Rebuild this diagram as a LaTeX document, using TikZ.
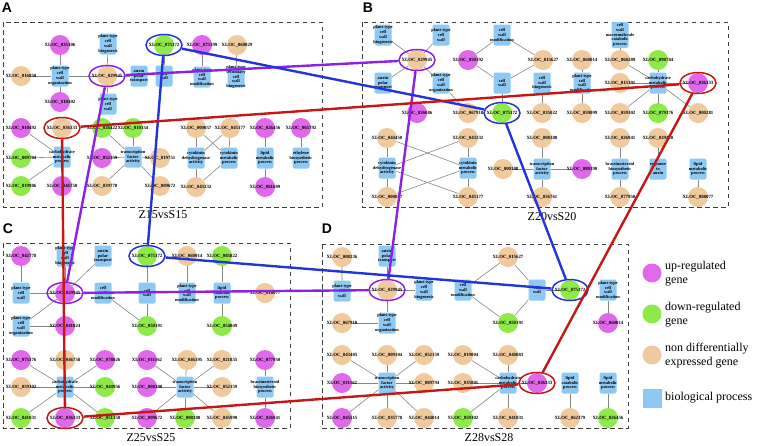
\documentclass[tikz,border=0pt]{standalone}
\usepackage{fontspec}
\setmainfont{Liberation Serif}
\newfontfamily\lsans{Liberation Sans}
\usetikzlibrary{shapes.geometric}
\pgfdeclarelayer{bg}
\pgfsetlayers{bg,main}
\definecolor{upc}{RGB}{224,104,234}
\definecolor{dnc}{RGB}{142,234,72}
\definecolor{ndc}{RGB}{240,201,156}
\definecolor{bpc}{RGB}{142,201,244}
\definecolor{purp}{RGB}{140,32,228}
\definecolor{blu}{RGB}{34,52,218}
\definecolor{rd}{RGB}{200,22,22}
\definecolor{edc}{RGB}{135,135,135}
\definecolor{frc}{RGB}{60,60,60}
\newcommand{\gnode}[5]{\node[#2,label={[gl]center:XLOC\_#5}] (#1) at (#3,-#4) {};}
\newcommand{\bnode}[5][]{\node[bp,#1,label={[bl]center:{#5}}] (#2) at (#3,-#4) {};}
\begin{document}
\begin{tikzpicture}[x=1pt,y=1pt,
 gene/.style={circle,inner sep=0pt,minimum size=20pt},
 up/.style={gene,fill=upc}, dn/.style={gene,fill=dnc}, nd/.style={gene,fill=ndc},
 bp/.style={rectangle,rounded corners=2pt,fill=bpc,minimum width=17pt,minimum height=21pt,inner sep=0pt},
 gl/.style={font=\fontsize{4.8}{5}\selectfont\bfseries,inner sep=0pt},
 bl/.style={font=\fontsize{4.4}{4.7}\selectfont\bfseries,align=center,inner sep=0pt},
 ed/.style={draw=edc,line width=0.6pt},
 panel/.style={draw=frc,dash pattern=on 4.5pt off 3.5pt,line width=0.9pt},
 hl/.style={ellipse,line width=1.5pt,minimum width=36pt,minimum height=21pt,inner sep=0pt},
 hline/.style={line width=2.4pt},
 ttl/.style={font=\fontsize{12}{14}\selectfont,inner sep=0pt},
 let/.style={font=\lsans\bfseries\fontsize{14}{16}\selectfont,inner sep=0pt},
 lg/.style={font=\fontsize{12}{14}\selectfont,align=left,inner sep=0pt,anchor=west}]
\useasboundingbox (0,0) rectangle (757,-445);
% panel frames
\draw[panel] (3,-22) rectangle (322,-207);
\draw[panel] (362,-22) rectangle (728,-207);
\draw[panel] (3,-243) rectangle (290,-428);
\draw[panel] (322,-244) rectangle (628,-428);
\node[let] (lA) at (7,-8) {A};
\node[let] (lB) at (368,-8) {B};
\node[let] (lC) at (8,-229) {C};
\node[let] (lD) at (327,-229) {D};
\node[ttl] (tA) at (163,-215) {Z15vsS15};
\node[ttl] (tB) at (552,-217) {Z20vsS20};
\node[ttl] (tC) at (151,-438) {Z25vsS25};
\node[ttl] (tD) at (489,-438) {Z28vsS28};
% ---------------- Panel A
\gnode{a035306}{up}{60}{45}{035306}
\gnode{a075372}{dn}{164}{45}{075372}
\gnode{a075399}{up}{202}{45}{075399}
\gnode{a060029}{nd}{237}{45}{060029}
\gnode{a016858}{nd}{21}{76}{016858}
\gnode{a029945}{nd}{107}{76}{029945}
\gnode{a010502}{up}{60}{102}{010502}
\gnode{a010492}{up}{21}{128}{010492}
\gnode{a036333}{nd}{62}{128}{036333}
\gnode{a026422}{dn}{102}{128}{026422}
\gnode{a010154}{dn}{133}{128}{010154}
\gnode{a000057}{nd}{196}{128}{000057}
\gnode{a045177}{nd}{230}{128}{045177}
\gnode{a026456}{up}{265}{128}{026456}
\gnode{a065792}{up}{301}{128}{065792}
\gnode{a009704}{dn}{21}{158}{009704}
\gnode{a052159}{up}{102}{158}{052159}
\gnode{a019751}{nd}{160}{158}{019751}
\gnode{a019986}{dn}{21}{186}{019986}
\gnode{a046758}{up}{62}{186}{046758}
\gnode{a039778}{nd}{102}{186}{039778}
\gnode{a009672}{nd}{160}{186}{009672}
\gnode{a043232}{nd}{196}{187}{043232}
\gnode{a061609}{up}{265}{187}{061609}
\bnode{aBio}{108}{44}{plant-type\\cell\\wall\\biogenesis}
\bnode{aOrg}{60}{76}{plant-type\\cell\\wall\\organization}
\bnode{aAux}{139}{76}{auxin\\polar\\transport}
\bnode{aCW}{164}{76}{cell\\wall}
\bnode{aPCW}{108}{104}{plant-type\\cell\\wall}
\bnode{aMod}{202}{77}{plant-type\\cell\\wall\\modification}
\bnode{aSec}{236}{77}{plant-type\\secondary\\cell\\wall\\biogenesis}
\bnode{aCarb}{62}{157}{carbohydrate\\metabolic\\process}
\bnode{aTF}{133}{157}{transcription\\factor\\activity}
\bnode{aCKD}{196}{158}{cytokinin\\dehydrogenase\\activity}
\bnode{aCKM}{229}{158}{cytokinin\\metabolic\\process}
\bnode{aLip}{265}{158}{lipid\\metabolic\\process}
\bnode{aEth}{301}{158}{ethylene\\biosynthetic\\process}
% ---------------- Panel B
\gnode{b029945}{nd}{417}{60}{029945}
\gnode{b050192}{up}{468}{60}{050192}
\gnode{b015627}{nd}{543}{60}{015627}
\gnode{b060014}{nd}{582}{60}{060014}
\gnode{b068289}{nd}{620}{60}{068289}
\gnode{b098784}{dn}{658}{60}{098784}
\gnode{b015391}{nd}{620}{83}{015391}
\gnode{b036333}{up}{698}{83}{036333}
\gnode{b026086}{up}{417}{113}{026086}
\gnode{b067918}{nd}{468}{113}{067918}
\gnode{b075372}{dn}{502}{113}{075372}
\gnode{b035022}{nd}{542}{113}{035022}
\gnode{b059099}{nd}{582}{113}{059099}
\gnode{b059302}{nd}{620}{113}{059302}
\gnode{b079376}{dn}{658}{113}{079376}
\gnode{b000281}{nd}{698}{113}{000281}
\gnode{b044450}{nd}{387}{138}{044450}
\gnode{b043232}{nd}{468}{138}{043232}
\gnode{b008188}{nd}{542}{138}{008188}
\gnode{b026941}{nd}{620}{138}{026941}
\gnode{b029420}{nd}{658}{138}{029420}
\gnode{b000108}{nd}{503}{169}{000108}
\gnode{b080390}{up}{582}{169}{080390}
\gnode{b000057}{nd}{387}{197}{000057}
\gnode{b045177}{nd}{468}{197}{045177}
\gnode{b056761}{nd}{542}{197}{056761}
\gnode{b077950}{nd}{620}{197}{077950}
\gnode{b008077}{nd}{698}{197}{008077}
\bnode{bBio}{383}{35}{plant-type\\cell\\wall\\biogenesis}
\bnode{bPCW}{441}{35}{plant-type\\cell\\wall}
\bnode{bAux}{383}{83}{auxin\\polar\\transport}
\bnode{bOrg}{441}{83}{plant-type\\cell\\wall\\organization}
\bnode{bMod}{502}{35}{cell\\wall\\modification}
\bnode{bCW}{502}{83}{cell\\wall}
\bnode{bCWB}{542}{83}{cell\\wall\\biogenesis}
\bnode{bPMod}{582}{83}{plant-type\\cell\\wall\\modification}
\bnode[minimum height=26pt]{bMac}{620}{35}{cell\\wall\\macromolecule\\catabolic\\process}
\bnode{bCarb}{658}{83}{carbohydrate\\metabolic\\process}
\bnode{bCKD}{387}{168}{cytokinin\\dehydrogenase\\activity}
\bnode{bCKM}{468}{168}{cytokinin\\metabolic\\process}
\bnode{bTF}{542}{169}{transcription\\factor\\activity}
\bnode{bBra}{620}{169}{brassinosteroid\\biosynthetic\\process}
\bnode{bRA}{658}{169}{response\\to\\auxin}
\bnode{bLip}{698}{169}{lipid\\metabolic\\process}
% ---------------- Panel C
\gnode{c042778}{up}{21}{256}{042778}
\gnode{c075372}{dn}{147}{256}{075372}
\gnode{c060014}{nd}{187}{256}{060014}
\gnode{c085822}{dn}{222}{256}{085822}
\gnode{c029945}{up}{65}{293}{029945}
\gnode{c018077}{nd}{265}{293}{018077}
\gnode{c041824}{up}{65}{326}{041824}
\gnode{c050191}{dn}{147}{326}{050191}
\gnode{c054049}{dn}{222}{326}{054049}
\gnode{c075376}{up}{21}{360}{075376}
\gnode{c046758}{nd}{65}{360}{046758}
\gnode{c078026}{up}{105}{360}{078026}
\gnode{c011162}{up}{147}{360}{011162}
\gnode{c046395}{nd}{187}{360}{046395}
\gnode{c021835}{nd}{222}{360}{021835}
\gnode{c077950}{up}{265}{360}{077950}
\gnode{c059302}{nd}{21}{387}{059302}
\gnode{c044956}{dn}{105}{387}{044956}
\gnode{c008398}{up}{147}{387}{008398}
\gnode{c052159}{nd}{222}{387}{052159}
\gnode{c041031}{dn}{21}{418}{041031}
\gnode{c036333}{up}{65}{418}{036333}
\gnode{c051350}{dn}{105}{418}{051350}
\gnode{c009672}{up}{147}{418}{009672}
\gnode{c008188}{dn}{185}{418}{008188}
\gnode{c045990}{nd}{222}{418}{045990}
\gnode{c026941}{up}{265}{418}{026941}
\bnode{cBio}{65}{256}{plant-type\\cell\\wall\\biogenesis}
\bnode{cAux}{103}{256}{auxin\\polar\\transport}
\bnode{cPCW}{21}{293}{plant-type\\cell\\wall}
\bnode{cMod}{103}{293}{cell\\wall\\modification}
\bnode{cCW}{147}{293}{cell\\wall}
\bnode{cPMod}{187}{293}{plant-type\\cell\\wall\\modification}
\bnode{cLipC}{222}{293}{lipid\\catabolic\\process}
\bnode{cOrg}{21}{326}{plant-type\\cell\\wall\\organization}
\bnode{cCarb}{65}{387}{carbohydrate\\metabolic\\process}
\bnode{cTF}{185}{387}{transcription\\factor\\activity}
\bnode{cBra}{265}{387}{brassinosteroid\\biosynthetic\\process}
% ---------------- Panel D
\gnode{d008236}{nd}{342}{257}{008236}
\gnode{d015627}{nd}{508}{257}{015627}
\gnode{d029945}{nd}{387}{290}{029945}
\gnode{d075372}{dn}{570}{290}{075372}
\gnode{d067918}{nd}{342}{323}{067918}
\gnode{d050191}{dn}{508}{323}{050191}
\gnode{d060014}{up}{608}{323}{060014}
\gnode{d043405}{nd}{342}{355}{043405}
\gnode{d009104}{nd}{387}{355}{009104}
\gnode{d052159}{nd}{424}{355}{052159}
\gnode{d019804}{nd}{463}{355}{019804}
\gnode{d040083}{nd}{508}{355}{040083}
\gnode{d011162}{up}{342}{383}{011162}
\gnode{d089794}{nd}{424}{383}{089794}
\gnode{d035891}{nd}{463}{383}{035891}
\gnode{d036333}{up}{537}{383}{036333}
\gnode{d045515}{up}{342}{418}{045515}
\gnode{d035778}{nd}{387}{418}{035778}
\gnode{d044014}{nd}{424}{418}{044014}
\gnode{d059302}{dn}{463}{418}{059302}
\gnode{d041031}{nd}{508}{418}{041031}
\gnode{d062379}{nd}{570}{418}{062379}
\gnode{d026456}{dn}{608}{418}{026456}
\bnode{dAux}{387}{256}{auxin\\polar\\transport}
\bnode{dPCW}{342}{291}{plant-type\\cell\\wall}
\bnode{dBio}{424}{290}{plant-type\\cell\\wall\\biogenesis}
\bnode{dMod}{463}{290}{cell\\wall\\modification}
\bnode{dCW}{537}{290}{cell\\wall}
\bnode{dPMod}{608}{290}{plant-type\\cell\\wall\\modification}
\bnode{dOrg}{387}{323}{plant-type\\cell\\wall\\organization}
\bnode{dTF}{387}{383}{transcription\\factor\\activity}
\bnode{dCarb}{508}{383}{carbohydrate\\metabolic\\process}
\bnode{dLipC}{570}{383}{lipid\\catabolic\\process}
\bnode{dLip}{608}{383}{lipid\\metabolic\\process}
% ---------------- edges
\begin{pgfonlayer}{bg}
\foreach \t in {a035306,a016858,a029945,a010502} \draw[ed] (aOrg) -- (\t);
\foreach \t in {aBio,aAux,aPCW} \draw[ed] (a029945) -- (\t);
\draw[ed] (a075372) -- (aCW);
\draw[ed] (a075399) -- (aMod);
\draw[ed] (a060029) -- (aSec);
\foreach \t in {a010492,a036333,a009704,a019986,a046758} \draw[ed] (aCarb) -- (\t);
\foreach \t in {a026422,a010154,a052159,a019751,a039778,a009672} \draw[ed] (aTF) -- (\t);
\foreach \t in {a000057,a045177,a043232} {\draw[ed] (aCKD) -- (\t); \draw[ed] (aCKM) -- (\t);}
\foreach \t in {a026456,a061609} \draw[ed] (aLip) -- (\t);
\draw[ed] (aEth) -- (a065792);
\foreach \t in {bBio,bPCW,bAux,bOrg} \draw[ed] (b029945) -- (\t);
\foreach \t in {bMod,bCW} {\draw[ed] (b050192) -- (\t); \draw[ed] (b015627) -- (\t);}
\draw[ed] (bCW) -- (b075372);
\draw[ed] (bOrg) -- (b067918);
\draw[ed] (bCWB) -- (b035022);
\draw[ed] (b060014) -- (bPMod) -- (b059099);
\draw[ed] (bMac) -- (b068289);
\foreach \t in {b068289,b098784,b015391,b036333,b059302,b079376,b000281} \draw[ed] (bCarb) -- (\t);
\foreach \t in {b044450,b043232,b000057,b045177} {\draw[ed] (bCKD) -- (\t); \draw[ed] (bCKM) -- (\t);}
\foreach \t in {b008188,b000108,b080390,b056761} \draw[ed] (bTF) -- (\t);
\foreach \t in {b026941,b077950} \draw[ed] (bBra) -- (\t);
\draw[ed] (bRA) -- (b029420);
\draw[ed] (bLip) -- (b008077);
\draw[ed] (c042778) -- (cPCW) -- (c029945);
\foreach \t in {cBio,cAux,cOrg,cMod} \draw[ed] (c029945) -- (\t);
\draw[ed] (cOrg) -- (c041824);
\draw[ed] (cMod) -- (c050191);
\foreach \t in {c075372,c050191} \draw[ed] (cCW) -- (\t);
\draw[ed] (c060014) -- (cPMod);
\draw[ed] (c085822) -- (cLipC) -- (c054049);
\foreach \t in {c075376,c046758,c078026,c059302,c044956,c041031,c036333,c051350} \draw[ed] (cCarb) -- (\t);
\foreach \t in {c011162,c046395,c021835,c008398,c052159,c009672,c008188,c045990} \draw[ed] (cTF) -- (\t);
\draw[ed] (c077950) -- (cBra) -- (c026941);
\draw[ed] (d008236) -- (dPCW) -- (d029945);
\foreach \t in {dAux,dBio,dOrg} \draw[ed] (d029945) -- (\t);
\draw[ed] (dOrg) -- (d067918);
\foreach \t in {d015627,d050191} {\draw[ed] (dMod) -- (\t); \draw[ed] (dCW) -- (\t);}
\draw[ed] (dCW) -- (d075372);
\draw[ed] (dPMod) -- (d060014);
\foreach \t in {d043405,d009104,d052159,d011162,d089794,d045515,d035778,d044014} \draw[ed] (dTF) -- (\t);
\foreach \t in {d019804,d040083,d035891,d036333,d059302,d041031} \draw[ed] (dCarb) -- (\t);
\draw[ed] (dLipC) -- (d062379);
\draw[ed] (dLip) -- (d026456);
\end{pgfonlayer}
% ---------------- legend
\node[up,minimum size=19pt] (lu) at (652,-273) {};
\node[lg] (lut) at (665,-274) {up-regulated\\gene};
\node[dn,minimum size=19pt] (ld) at (652,-314) {};
\node[lg] (ldt) at (665,-315) {down-regulated\\gene};
\node[nd,minimum size=19pt] (ln) at (652,-355) {};
\node[lg] (lnt) at (665,-356) {non differentially\\expressed gene};
\node[fill=bpc,minimum size=19pt,inner sep=0pt] (lb) at (652,-398) {};
\node[lg] (lbt) at (665,-398) {biological process};
% ---------------- highlights
\node[hl,draw=purp] (pA) at (107,-76) {};
\node[hl,draw=purp] (pB) at (417,-60) {};
\node[hl,draw=purp] (pC) at (65,-293) {};
\node[hl,draw=purp] (pD) at (387,-290) {};
\node[hl,draw=blu] (uA) at (164,-45) {};
\node[hl,draw=blu] (uB) at (502,-113) {};
\node[hl,draw=blu] (uC) at (147,-256) {};
\node[hl,draw=blu] (uD) at (570,-290) {};
\node[hl,draw=rd] (rA) at (62,-128) {};
\node[hl,draw=rd] (rB) at (698,-83) {};
\node[hl,draw=rd] (rC) at (65,-418) {};
\node[hl,draw=rd] (rD) at (537,-383) {};
\draw[hline,purp] (pA) -- (pB);
\draw[hline,purp] (pA) -- (pC);
\draw[hline,purp] (pB) -- (pD);
\draw[hline,purp] (pC) -- (pD);
\draw[hline,blu] (uA) -- (uB);
\draw[hline,blu] (uA) -- (uC);
\draw[hline,blu] (uB) -- (uD);
\draw[hline,blu] (uC) -- (uD);
\draw[hline,rd] (rA) -- (rB);
\draw[hline,rd] (rA) -- (rC);
\draw[hline,rd] (rB) -- (rD);
\draw[hline,rd] (rC) -- (rD);
\end{tikzpicture}
\end{document}
